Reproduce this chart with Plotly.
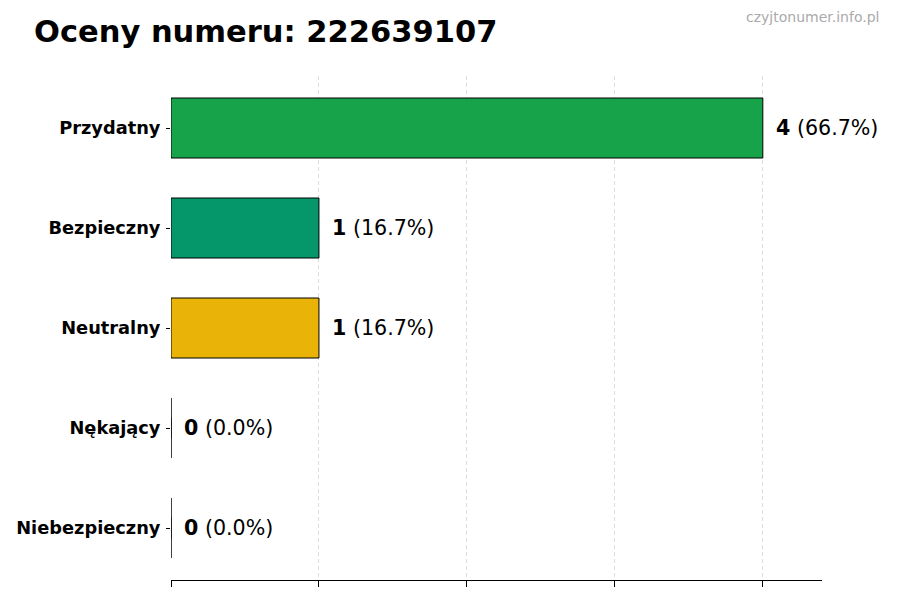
import plotly.graph_objects as go

# dane
categories = ['Przydatny', 'Bezpieczny', 'Neutralny', 'Nękający', 'Niebezpieczny']
counts = [4, 1, 1, 0, 0]
colors = ['#16a34a', '#059669', '#eab308', '#f97316', '#dc2626']
phone = '222639107'

total = sum(counts)
percents = [c / total * 100 for c in counts]

FONT = 'DejaVu Sans'

fig = go.Figure()

fig.add_trace(go.Bar(
    x=counts, y=categories, orientation='h', width=0.6,
    marker=dict(color=colors, line=dict(color='black', width=1)),
    hoverinfo='skip', showlegend=False
))

# kreska dla zerowych słupków (jak krawędź w matplotlib)
zero_cats = [c for c, v in zip(categories, counts) if v == 0]
fig.add_trace(go.Scatter(
    x=[0] * len(zero_cats), y=zero_cats, mode='markers',
    marker=dict(symbol='line-ns', size=15, line=dict(color='black', width=1)),
    hoverinfo='skip', showlegend=False
))

# etykiety wartości
for cat, v, p in zip(categories, counts, percents):
    fig.add_annotation(
        x=v, y=cat, text=f'<b>{v}</b> ({p:.1f}%)', showarrow=False,
        xanchor='left', xshift=11, font=dict(family=FONT, size=20.6, color='black')
    )

fig.add_annotation(
    text='czyjtonumer.info.pl', xref='paper', yref='paper',
    x=1.0906, y=1.117, xanchor='right', yanchor='middle', showarrow=False,
    font=dict(family=FONT, size=14, color='#aaaaaa')
)

fig.update_layout(
    width=900, height=600,
    margin=dict(l=171, r=78, t=76, b=20),
    plot_bgcolor='white', paper_bgcolor='white',
    font=dict(family=FONT, color='black'),
    title=dict(
        text=f'<b>Oceny numeru: {phone}</b>',
        x=34 / 900, xref='container', xanchor='left',
        y=1 - 31 / 600, yref='container', yanchor='middle',
        font=dict(family=FONT, size=30.5, color='black')
    ),
    xaxis=dict(
        range=[0, 4.4], dtick=1, tick0=0,
        showgrid=True, gridcolor='#dddddd', griddash='4px,3px', gridwidth=0.8,
        zeroline=False, showline=True, linecolor='black', linewidth=1,
        ticks='outside', ticklen=6, tickcolor='black', showticklabels=False
    ),
    yaxis=dict(
        categoryorder='array', categoryarray=categories,
        range=[4.52, -0.52], showgrid=False, zeroline=False, showline=False,
        ticks='outside', ticklen=4, tickcolor='black',
        tickfont=dict(family=FONT, size=17.8, color='black'),
        ticklabelstandoff=2, automargin=False
    )
)

# pogrubione etykiety kategorii
fig.update_yaxes(ticktext=[f'<b>{c}</b>' for c in categories], tickvals=categories)

fig.write_html('out.html', config={'displayModeBar': False},
               post_script="document.body.style.margin='0';")
